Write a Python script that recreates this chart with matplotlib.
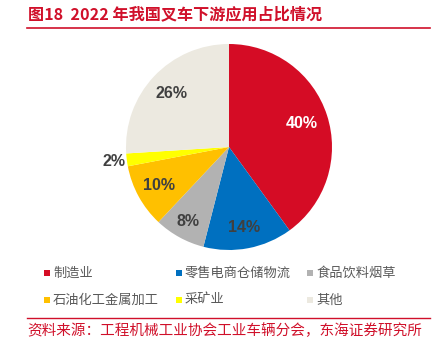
import matplotlib
matplotlib.use("Agg")
import matplotlib.pyplot as plt
import numpy as np
from matplotlib.patches import Rectangle
from matplotlib.lines import Line2D

categories = ["制造业", "零售电商仓储物流", "食品饮料烟草", "石油化工金属加工", "采矿业", "其他"]
values = [40, 14, 8, 10, 2, 26]
colors = ["#D50C25", "#0070C0", "#B2B2B2", "#FFC000", "#FFFF00", "#ECE9E0"]
label_colors = ["white", "#404040", "#404040", "#404040", "#404040", "#404040"]
title = "图18  2022 年我国叉车下游应用占比情况"
source = "资料来源：工程机械工业协会工业车辆分会，东海证券研究所"

W, H = 437, 342
fig = plt.figure(figsize=(W / 100, H / 100), dpi=100)
fig.patch.set_facecolor("white")

def fx(px):
    return px / W

def fy(py):
    return 1 - py / H

cjk = ["Noto Sans CJK SC", "DejaVu Sans"]
red = "#D0102A"

# Pie axes
cx, cy, r = 229, 147, 103
ax = fig.add_axes([fx(cx - r), fy(cy + r), 2 * r / W, 2 * r / H])
wedges, _ = ax.pie(values, colors=colors, startangle=90, counterclock=False,
                   radius=1.0, wedgeprops=dict(linewidth=0))
ax.set_xlim(-1, 1)
ax.set_ylim(-1, 1)
ax.set_aspect("equal")
ax.axis("off")

dists = [0.74, 0.8, 0.82, 0.78, 1.13, 0.76]
for w, v, c, d in zip(wedges, values, label_colors, dists):
    ang = np.deg2rad((w.theta1 + w.theta2) / 2)
    ax.text(d * np.cos(ang), d * np.sin(ang), f"{v}%", ha="center", va="center",
            color=c, fontsize=11.5, fontweight="bold", family="Liberation Sans",
            clip_on=False)

# Title
fig.text(fx(28), fy(14), title, ha="left", va="center", color=red,
         fontsize=11.6, fontweight="bold", family=cjk)
fig.add_artist(Line2D([fx(27), fx(430)], [fy(28), fy(28)], color=red, lw=1.2,
                      transform=fig.transFigure))

# Legend
col_x = [47, 179, 310]
row_y = [273, 300]
for i, (cat, col) in enumerate(zip(categories, colors)):
    x = col_x[i % 3]
    y = row_y[i // 3]
    s = 6
    fig.add_artist(Rectangle((fx(x - s / 2), fy(y + s / 2)), s / W, s / H,
                             transform=fig.transFigure, facecolor=col,
                             edgecolor="none"))
    fig.text(fx(x + 6), fy(y), cat, ha="left", va="center", color="#595959",
             fontsize=9.5, family=cjk)

# Source
fig.add_artist(Line2D([fx(27), fx(430)], [fy(318), fy(318)], color=red, lw=1.0,
                      transform=fig.transFigure))
fig.text(fx(27), fy(331), source, ha="left", va="center", color=red,
         fontsize=10.5, family=cjk)

fig.savefig("out.png", dpi=100, facecolor="white")
